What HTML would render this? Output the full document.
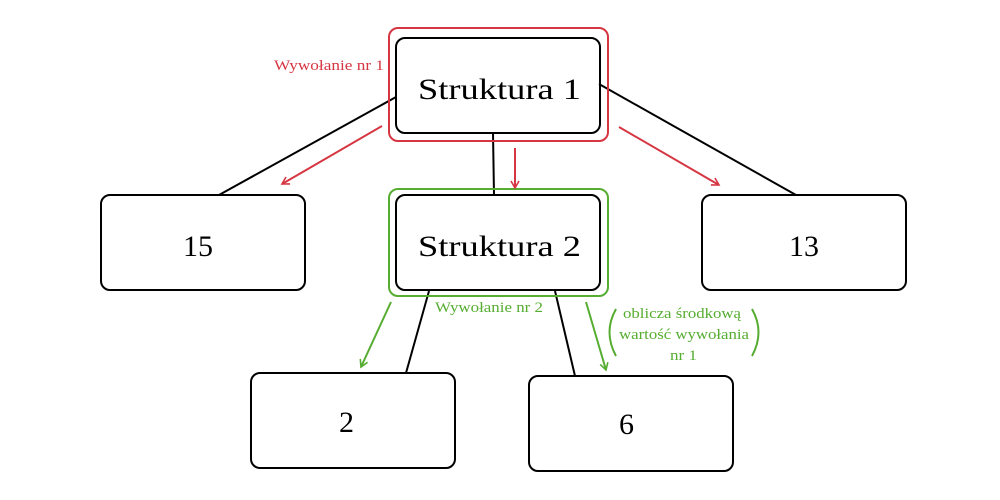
<!DOCTYPE html>
<html><head><meta charset="utf-8"><style>
html,body{margin:0;padding:0;background:#fff;width:1000px;height:500px;overflow:hidden}
svg{display:block}
text{font-family:"Liberation Serif",serif}
</style></head><body>
<svg width="1000" height="500" viewBox="0 0 1000 500" xmlns="http://www.w3.org/2000/svg">
<defs>
<marker id="ar" markerWidth="10" markerHeight="10" refX="8" refY="5" orient="auto" markerUnits="userSpaceOnUse"><path d="M1,1 L8,5 L1,9" fill="none" stroke="#d63642" stroke-width="1.6"/></marker>
<marker id="ag" markerWidth="10" markerHeight="10" refX="8" refY="5" orient="auto" markerUnits="userSpaceOnUse"><path d="M1,1 L8,5 L1,9" fill="none" stroke="#56ad31" stroke-width="1.6"/></marker>
</defs>
<g stroke="#000" stroke-width="2" fill="none">
<line x1="396" y1="97" x2="219" y2="195"/>
<line x1="599" y1="84" x2="796" y2="195"/>
<line x1="493" y1="133" x2="494" y2="195"/>
<line x1="429" y1="291" x2="406" y2="373"/>
<line x1="555" y1="291" x2="575" y2="376"/>
<rect x="396" y="38" width="204" height="95" rx="9"/>
<rect x="101" y="195" width="204" height="95" rx="9"/>
<rect x="396" y="195" width="204" height="95" rx="9"/>
<rect x="702" y="195" width="204" height="95" rx="9"/>
<rect x="251" y="373" width="204" height="95" rx="9"/>
<rect x="529" y="376" width="204" height="95" rx="9"/>
</g>
<rect x="389" y="28" width="219" height="113" rx="9" fill="none" stroke="#d63642" stroke-width="2"/>
<rect x="389" y="189" width="219" height="107" rx="9" fill="none" stroke="#56ad31" stroke-width="2"/>
<g stroke="#d63642" stroke-width="2" fill="none">
<line x1="382" y1="126" x2="282" y2="184" marker-end="url(#ar)"/>
<line x1="515" y1="148" x2="515" y2="188" marker-end="url(#ar)"/>
<line x1="619" y1="127" x2="719" y2="185" marker-end="url(#ar)"/>
</g>
<g stroke="#56ad31" stroke-width="2" fill="none">
<line x1="391" y1="302" x2="361" y2="367" marker-end="url(#ag)"/>
<line x1="586" y1="302" x2="606" y2="370" marker-end="url(#ag)"/>
</g>
<g font-size="30" fill="#000">
<text x="418" y="99" textLength="163" lengthAdjust="spacingAndGlyphs">Struktura 1</text>
<text x="418" y="256" textLength="163" lengthAdjust="spacingAndGlyphs">Struktura 2</text>
<text x="183" y="256" textLength="30" lengthAdjust="spacingAndGlyphs">15</text>
<text x="789" y="256" textLength="30" lengthAdjust="spacingAndGlyphs">13</text>
<text x="339" y="432">2</text>
<text x="619" y="434">6</text>
</g>
<text x="274" y="70" font-size="15" fill="#d63642" textLength="110" lengthAdjust="spacingAndGlyphs">Wywołanie nr 1</text>
<g font-size="15" fill="#56ad31">
<text x="435" y="312" textLength="108" lengthAdjust="spacingAndGlyphs">Wywołanie nr 2</text>
<text x="623" y="318" textLength="118" lengthAdjust="spacingAndGlyphs">oblicza środkową</text>
<text x="619" y="339" textLength="130" lengthAdjust="spacingAndGlyphs">wartość wywołania</text>
<text x="670" y="360" textLength="27" lengthAdjust="spacingAndGlyphs">nr 1</text>
</g>
<path d="M616,309 Q603,332 616,356" fill="none" stroke="#56ad31" stroke-width="2"/>
<path d="M752,309 Q765,332 752,356" fill="none" stroke="#56ad31" stroke-width="2"/>
</svg>
</body></html>
